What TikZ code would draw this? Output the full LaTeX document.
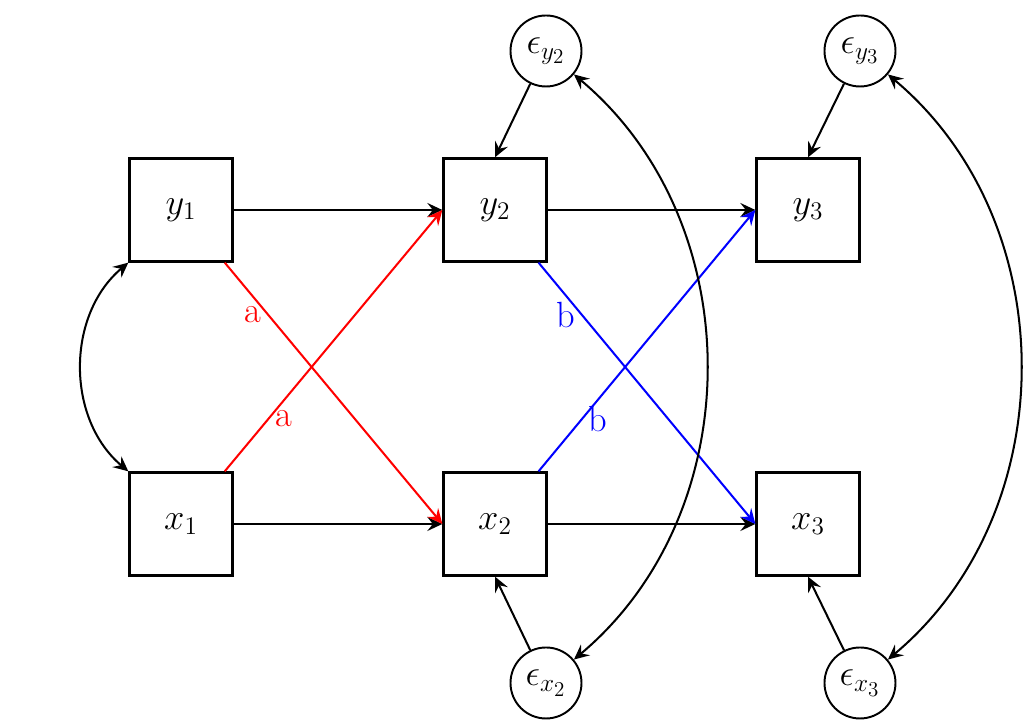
\documentclass[tikz,border=0pt]{standalone}
\usetikzlibrary{arrows.meta,calc}
\tikzset{
  tip/.tip={Stealth[length=3mm,width=2.8mm,inset=1.1mm]},
  box/.style={draw, line width=1.6pt, minimum size=2.05cm, inner sep=0pt, font=\huge},
  err/.style={draw, circle, line width=1.1pt, minimum size=1.42cm, inner sep=0pt, font=\huge},
  arr/.style={line width=1.15pt, -tip},
  dbl/.style={line width=1.15pt, tip-tip},
  lab/.style={font=\huge}
}
\begin{document}
\begin{tikzpicture}
\useasboundingbox (0,0) rectangle (20.48,14.44);
\node[box] (y1) at (3.62,10.24) {$y_1$};
\node[box] (y2) at (9.90,10.24) {$y_2$};
\node[box] (y3) at (16.16,10.24) {$y_3$};
\node[box] (x1) at (3.62,3.96) {$x_1$};
\node[box] (x2) at (9.90,3.96) {$x_2$};
\node[box] (x3) at (16.16,3.96) {$x_3$};
\node[err] (ey2) at (10.92,13.42) {$\epsilon_{y_2}$};
\node[err] (ey3) at (17.20,13.42) {$\epsilon_{y_3}$};
\node[err] (ex2) at (10.92,0.78) {$\epsilon_{x_2}$};
\node[err] (ex3) at (17.20,0.78) {$\epsilon_{x_3}$};

\draw[arr] (y1.east) -- (y2.west);
\draw[arr] (y2.east) -- (y3.west);
\draw[arr] (x1.east) -- (x2.west);
\draw[arr] (x2.east) -- (x3.west);

\draw[arr, red] (y1) -- (x2.west) node[lab, pos=0.2, left] {a};
\draw[arr, red] (x1) -- (y2.west) node[lab, pos=0.2, right] {a};
\draw[arr, blue] (y2) -- (x3.west) node[lab, pos=0.2, left] {b};
\draw[arr, blue] (x2) -- (y3.west) node[lab, pos=0.2, right] {b};

\draw[arr] (ey2) -- (y2.north);
\draw[arr] (ey3) -- (y3.north);
\draw[arr] (ex2) -- (x2.south);
\draw[arr] (ex3) -- (x3.south);

\draw[dbl] (y1.south west) to[bend right=50] (x1.north west);
\draw[dbl] (ey2.-40) .. controls ($(ey2.-40)+(-40:4.6)$) and ($(ex2.40)+(40:4.6)$) .. (ex2.40);
\draw[dbl] (ey3.-40) .. controls ($(ey3.-40)+(-40:4.6)$) and ($(ex3.40)+(40:4.6)$) .. (ex3.40);
\end{tikzpicture}
\end{document}
